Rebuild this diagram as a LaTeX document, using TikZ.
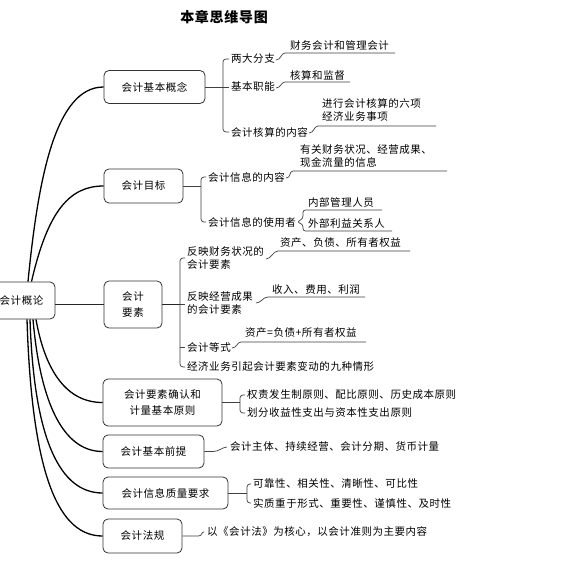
\documentclass[tikz,border=0pt]{standalone}
\usepackage{fontspec}
\setmainfont{Noto Sans CJK SC}[LetterSpace=5]
\begin{document}
\begin{tikzpicture}[x=1pt,y=-1pt,
  box/.style={draw=black!80, line width=0.8pt, rounded corners=5pt, align=center, inner sep=0pt, font=\fontsize{10.5}{16}\selectfont},
  lbl/.style={anchor=west, inner sep=0pt, align=left, font=\fontsize{10.5}{13}\selectfont},
  trunk/.style={line width=1.3pt, black},
  mid/.style={line width=1pt, black!85},
  twig/.style={line width=0.7pt, black!75},
]
\useasboundingbox (0,0) rectangle (580,561);
\fill[white] (0,0) rectangle (580,561);

% title
\node[inner sep=0pt, font=\fontsize{14}{14}\selectfont\bfseries] (title) at (224,17) {本章思维导图};

% main boxes
\node[box, minimum width=67pt, minimum height=37pt] (root) at (21.5,300.5) {会计概论};
\node[box, minimum width=101pt, minimum height=33pt] (c1) at (154.5,87) {会计基本概念};
\node[box, minimum width=79pt, minimum height=34pt] (c2) at (143.5,186) {会计目标};
\node[box, minimum width=58pt, minimum height=47pt] (c3) at (133,304.5) {会计\\要素};
\node[box, minimum width=119pt, minimum height=47pt] (c4) at (162.5,402.5) {会计要素确认和\\计量基本原则};
\node[box, minimum width=101pt, minimum height=33pt] (c5) at (153.5,451.5) {会计基本前提};
\node[box, minimum width=125pt, minimum height=32pt] (c6) at (165.5,493) {会计信息质量要求};
\node[box, minimum width=79pt, minimum height=34pt] (c7) at (142.5,536) {会计法规};

% trunk curves
\draw[trunk] ([xshift=6.5pt]root.north) .. controls (38,180) and (55,87) .. (c1.west);
\draw[trunk] ([xshift=10pt]root.north) .. controls (48,210) and (70,186) .. (c2.west);
\draw[mid] (root.east |- c3.west) -- (c3.west);
\draw[trunk] ([xshift=14.5pt]root.south) .. controls (45,370) and (66,402.5) .. (c4.west);
\draw[trunk] ([xshift=11.5pt]root.south) .. controls (40,400) and (62,451.5) .. (c5.west);
\draw[trunk] ([xshift=8.5pt]root.south) .. controls (34,440) and (60,493) .. (c6.west);
\draw[trunk] ([xshift=5.5pt]root.south) .. controls (32,480) and (60,536) .. (c7.west);

% ---------- branch 1
\node[lbl] (l11) at (231,59) {两大分支};
\node[lbl] (l12) at (231,87) {基本职能};
\node[lbl] (l13) at (231,132) {会计核算的内容};
\node[lbl] (t11) at (290,45) {财务会计和管理会计};
\node[lbl] (t12) at (290,75) {核算和监督};
\node[lbl] (t13) at (322,110.5) {进行会计核算的六项\\经济业务事项};
\coordinate (b1) at (223,0);
\draw[twig] (c1.east) -- ([xshift=-2pt]l12.west);
\draw[twig, rounded corners=3pt] ([xshift=-2pt]l11.west) -- (l11.west -| b1) -- (l13.west -| b1) -- ([xshift=-2pt]l13.west);
\coordinate (u11) at (285,53); \coordinate (v11) at (395,53);
\coordinate (u12) at (285,82); \coordinate (v12) at (350,82);
\coordinate (u13) at (318,126); \coordinate (v13) at (436,126);
\draw[twig] ([xshift=1pt,yshift=-1pt]l11.east) .. controls +(5,0) and +(-4,0) .. (u11) -- (v11);
\draw[twig] ([xshift=1pt,yshift=-1pt]l12.east) .. controls +(5,0) and +(-4,0) .. (u12) -- (v12);
\draw[twig] ([xshift=1pt,yshift=-1pt]l13.east) .. controls +(5,0) and +(-4,0) .. (u13) -- (v13);

% ---------- branch 2
\node[lbl] (l21) at (208,177) {会计信息的内容};
\node[lbl] (l22) at (208,222) {会计信息的使用者};
\node[lbl] (t21) at (300,156.5) {有关财务状况、经营成果、\\现金流量的信息};
\node[lbl] (t22) at (308,203) {内部管理人员};
\node[lbl] (t23) at (308,223) {外部利益关系人};
\coordinate (b2) at (201,0);
\draw[twig] (c2.east) -- (c2.east -| b2);
\draw[twig, rounded corners=3pt] ([xshift=-2pt]l21.west) -- (l21.west -| b2) -- (l22.west -| b2) -- ([xshift=-2pt]l22.west);
\coordinate (u21) at (293,171); \coordinate (v21) at (447,171);
\draw[twig] ([xshift=1pt,yshift=-1pt]l21.east) .. controls +(5,0) and +(-4,0) .. (u21) -- (v21);
\coordinate (v22) at (382,210); \coordinate (v23) at (392,231);
\coordinate (b2a) at (303,210); \coordinate (b2b) at (303,231);
\draw[twig, rounded corners=2.5pt] (v22) -- (b2a) -- (303,218.5) -- ([xshift=1pt]l22.east) -- (303,224.5) -- (b2b) -- (v23);

% ---------- branch 3
\node[lbl] (l31) at (187,258) {反映财务状况的\\会计要素};
\node[lbl] (l32) at (187,303) {反映经营成果\\的会计要素};
\node[lbl] (l33) at (187,347) {会计等式};
\node[lbl] (l34) at (187,367) {经济业务引起会计要素变动的九种情形};
\node[lbl] (t31) at (280,243) {资产、负债、所有者权益};
\node[lbl] (t32) at (272,290) {收入、费用、利润};
\node[lbl] (t33) at (245,333) {资产=负债+所有者权益};
\coordinate (b3) at (180,0);
\draw[mid] (c3.east) -- (c3.east -| b3);
\draw[twig] (c3.east -| b3) -- ([xshift=-2pt]l32.west |- c3.east);
\draw[twig, rounded corners=3pt] ([xshift=-2pt]l31.west) -- (l31.west -| b3) -- (l34.west -| b3) -- ([xshift=-2pt]l34.west);
\draw[twig] (l33.west -| b3) -- ([xshift=-2pt]l33.west);
\coordinate (u31) at (278,251); \coordinate (v31) at (410,251);
\coordinate (u32) at (268,297); \coordinate (v32) at (365,297);
\coordinate (u33) at (241,342); \coordinate (v33) at (366,342);
\draw[twig] ([xshift=2pt,yshift=-1pt]l31.east) .. controls +(5,0) and +(-5,0) .. (u31) -- (v31);
\draw[twig] ([xshift=3pt]l32.east) .. controls +(5,0) and +(-5,0) .. (u32) -- (v32);
\draw[twig] ([xshift=1pt,yshift=-1pt]l33.east) .. controls +(5,0) and +(-4,0) .. (u33) -- (v33);

% ---------- branch 4
\node[lbl] (t41) at (247,395) {权责发生制原则、配比原则、历史成本原则};
\node[lbl] (t42) at (247,413) {划分收益性支出与资本性支出原则};
\coordinate (b4) at (240,0);
\draw[twig] (c4.east) -- (c4.east -| b4);
\draw[twig, rounded corners=3pt] ([xshift=-2pt]t41.west) -- (t41.west -| b4) -- (t42.west -| b4) -- ([xshift=-2pt]t42.west);

% ---------- branch 5
\node[lbl] (t51) at (230,447) {会计主体、持续经营、会计分期、货币计量};
\draw[twig] (c5.east) -- ++(9,0) .. controls +(5,0) and +(-4,0) .. ([xshift=-3pt]t51.west);

% ---------- branch 6
\node[lbl] (t61) at (253,484) {可靠性、相关性、清晰性、可比性};
\node[lbl] (t62) at (253,503) {实质重于形式、重要性、谨慎性、及时性};
\coordinate (b6) at (247,0);
\draw[twig] (c6.east) -- (c6.east -| b6);
\draw[twig, rounded corners=3pt] ([xshift=-2pt]t61.west) -- (t61.west -| b6) -- (t62.west -| b6) -- ([xshift=-2pt]t62.west);

% ---------- branch 7
\node[lbl] (t71) at (207,532) {以《会计法》为核心，以会计准则为主要内容};
\draw[twig] (c7.east) -- ++(16,0) .. controls +(4,0) and +(-3,0) .. ([xshift=-3pt]t71.west);
\end{tikzpicture}
\end{document}
